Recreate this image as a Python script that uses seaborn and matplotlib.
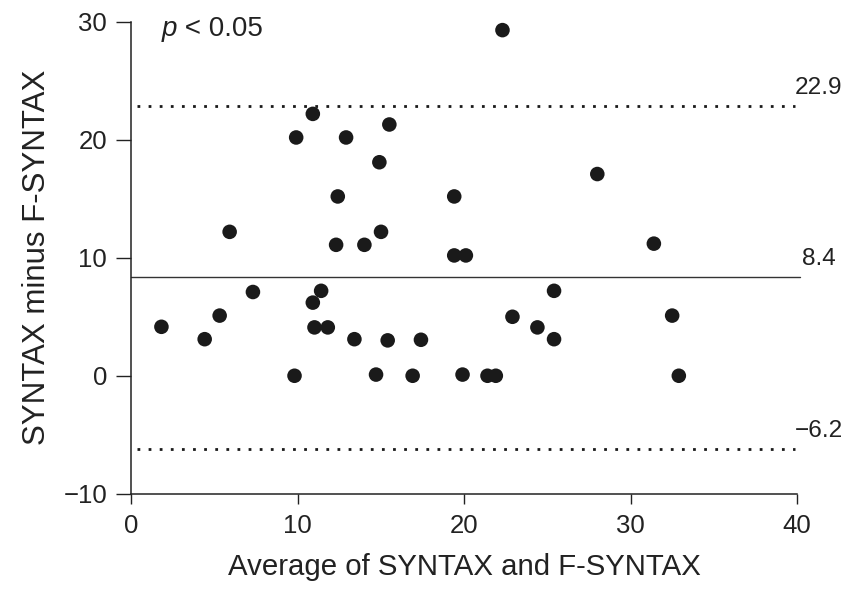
import matplotlib
matplotlib.use("Agg")
import matplotlib.pyplot as plt
import seaborn as sns
import pandas as pd

# Data
avg_values = [22.3, 10.9, 15.5, 9.9, 12.9, 14.9, 12.4, 19.4, 5.9, 15.0,
              12.3, 14.0, 19.4, 20.1, 1.8, 4.4, 5.3, 7.3, 11.4, 10.9,
              11.0, 11.8, 13.4, 15.4, 17.4, 9.8, 14.7, 16.9, 19.9, 21.4,
              21.9, 22.9, 24.4, 25.4, 25.4, 28.0, 31.4, 32.5, 32.9]
diff_values = [29.3, 22.2, 21.3, 20.2, 20.2, 18.1, 15.2, 15.2, 12.2, 12.2,
               11.1, 11.1, 10.2, 10.2, 4.15, 3.1, 5.1, 7.1, 7.2, 6.2,
               4.1, 4.1, 3.1, 3.0, 3.05, 0.0, 0.1, 0.0, 0.1, 0.0,
               0.0, 5.0, 4.1, 7.2, 3.1, 17.1, 11.2, 5.1, 0.0]
mean_diff = 8.4
upper_loa = 22.9
lower_loa = -6.2
x_ticks = [0, 10, 20, 30, 40]
y_ticks = [-10, 0, 10, 20, 30]
x_label = "Average of SYNTAX and F-SYNTAX"
y_label = "SYNTAX minus F-SYNTAX"

df = pd.DataFrame({"avg": avg_values, "diff": diff_values})

sns.set_theme(style="ticks")
plt.rcParams["font.family"] = ["Liberation Sans", "DejaVu Sans"]

fig = plt.figure(figsize=(8.56, 5.91), dpi=100)
ax = fig.add_axes([0.1536, 0.1646, 0.9310 - 0.1536, 0.963 - 0.1646])

txt = "#222222"

sns.scatterplot(data=df, x="avg", y="diff", ax=ax, s=110, color="#1a1a1a",
                edgecolor="none", linewidth=0, zorder=3, legend=False)

# Mean line
ax.plot([0, 40.2], [mean_diff, mean_diff], color="#333333", lw=1.0,
        clip_on=False, zorder=2)
# Limits of agreement
for v in (upper_loa, lower_loa):
    ax.plot([0.35, 39.9], [v, v], color="#1a1a1a", lw=2.0,
            linestyle=(0, (1, 3)), clip_on=False, zorder=2)

for v, lab in ((upper_loa, "22.9"), (mean_diff, "8.4"), (lower_loa, "\u22126.2")):
    ax.text(41.3, v + 1.5, lab, ha="center", va="center", fontsize=17.6,
            color=txt, clip_on=False)

ax.text(0.046, 0.984, "p", style="italic", transform=ax.transAxes,
        ha="left", va="center", fontsize=20, color=txt)
ax.text(0.046 + 0.023, 0.984, " < 0.05", transform=ax.transAxes,
        ha="left", va="center", fontsize=20, color=txt)

ax.set_xlim(0, 40)
ax.set_ylim(-10, 30)
ax.set_xticks(x_ticks)
ax.set_yticks(y_ticks)
ax.set_yticklabels([str(t).replace("-", "\u2212") for t in y_ticks])
ax.set_xlabel(x_label, fontsize=21.2, color=txt, labelpad=11)
ax.set_ylabel(y_label, fontsize=22.5, color=txt, labelpad=8)

sns.despine(ax=ax)
for sp in ("left", "bottom"):
    ax.spines[sp].set_linewidth(1.1)
    ax.spines[sp].set_color("#222222")
ax.tick_params(axis="y", length=10.5, width=1.0, pad=7, labelsize=18.5,
               colors="#222222", labelcolor=txt)
ax.tick_params(axis="x", length=7.5, width=1.0, pad=7, labelsize=18.5,
               colors="#222222", labelcolor=txt)

fig.savefig("out.png", dpi=100)
